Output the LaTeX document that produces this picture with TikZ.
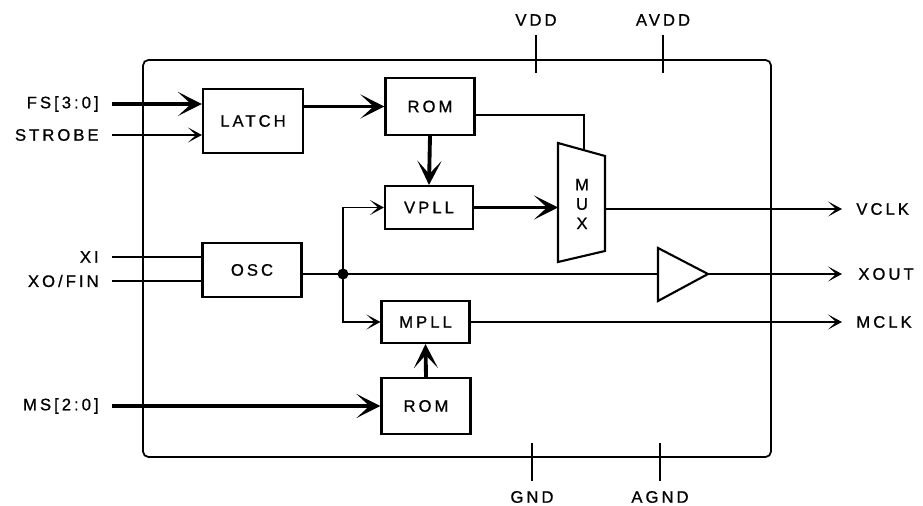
\documentclass[tikz,border=0pt]{standalone}
\usepackage{fontspec}
\setsansfont[LetterSpace=18,FakeBold=0.8]{Liberation Sans}
\usetikzlibrary{arrows.meta}
\usetikzlibrary{calc}

\begin{document}
\begin{tikzpicture}[font=\sffamily\fontsize{9.5}{11}\selectfont,
x=0.02cm, y=-0.02cm,
sig/.style={line width=1.1pt},
bus/.style={line width=2.2pt},
sigarr/.style={sig, -{Stealth[length=2.8mm,width=3mm,inset=1.6mm]}},
busarr/.style={bus, -{Stealth[length=4.8mm,width=4.8mm,inset=2.6mm]}},
lbl/.style={inner sep=0pt}]
\tikzstyle{blk} = [draw, line width=1.2pt, inner sep=0pt, minimum width=1.78cm, minimum height=0.86cm]
\tikzstyle{pin} = [line width=1.2pt]

\useasboundingbox (0,0) rectangle (923,506);

% chip outline
\node[draw, line width=1pt, rounded corners=3pt, minimum width=12.56cm, minimum height=7.94cm](chip) at (457,258.5){};

\node[blk, minimum width=2cm, minimum height=1.28cm](latch) at (253,121){LATCH};
\node[blk, minimum height=1.14cm](romv) at (430,106.5){ROM};
\node[blk, minimum width=1.76cm](vpll) at (429,207.5){VPLL};
\node[blk, minimum width=1.98cm, minimum height=1.08cm](osc) at (252,270){OSC};
\node[blk, minimum width=1.76cm, minimum height=0.84cm](mpll) at (425.5,322){MPLL};
\node[blk, minimum height=1.12cm](romm) at (426,406){ROM};

% mux
\coordinate (mlt) at (558,143);
\coordinate (mrt) at (605,156);
\coordinate (mrb) at (605,251);
\coordinate (mlb) at (558,262);
\draw[line width=1.2pt] (mlt) -- (mrt) -- (mrb) -- (mlb) -- cycle;
\node[lbl, align=center](mux) at (582,204){M\\U\\X};
\coordinate (muxin) at ($(mlt)!0.55!(mrt)$);

% buffer
\coordinate (bt) at (658,248);
\coordinate (bb) at (658,301);
\coordinate (btip) at (708,274);
\draw[line width=1.2pt] (bt) -- (btip) -- (bb) -- cycle;

% pins
\node[lbl, anchor=east](fs) at (99,104){FS[3:0]};
\node[lbl, anchor=east](strobe) at (99,135){STROBE};
\node[lbl, anchor=east](xi) at (99,257){XI};
\node[lbl, anchor=east](xo) at (99,281){XO/FIN};
\node[lbl, anchor=east](ms) at (99,406){MS[2:0]};
\node[lbl, anchor=west](vclk) at (856,209){VCLK};
\node[lbl, anchor=west](xout) at (858,274){XOUT};
\node[lbl, anchor=west](mclk) at (856,322){MCLK};
\node[lbl](vdd) at (536,20){VDD};
\node[lbl](avdd) at (663,20){AVDD};
\node[lbl](gnd) at (532,497){GND};
\node[lbl](agnd) at (660,497){AGND};

\foreach \p in {vdd,avdd}{
	\draw[pin] (\p |- 0,35) -- (\p |- 0,73);
}
\foreach \p in {gnd,agnd}{
	\draw[pin] (\p |- 0,443) -- (\p |- 0,481);
}

% inputs
\draw[busarr] ([xshift=2.6mm]fs.east) -- (fs -| latch.west);
\draw[sigarr] ([xshift=2.6mm]strobe.east) -- (strobe -| latch.west);
\draw[sig] ([xshift=2.6mm]xi.east) -- (xi -| osc.west);
\draw[sig] ([xshift=2.6mm]xo.east) -- (xo -| osc.west);
\draw[busarr] ([xshift=2.6mm]ms.east) -- (romm.west);

% inside
\draw[busarr] (romv.west -| latch.east) -- (romv.west);
\draw[busarr] (romv.south) -- (vpll.north);
\draw[sig] ([yshift=-1.7mm]romv.east) -| (muxin);
\draw[busarr] (vpll.east) -- (vpll.east -| mlt);
\draw[busarr] (romm.north) -- (mpll.south);

\coordinate (jn) at (343,274);
\draw[sig] (osc.east |- jn) -- (jn) -- (bt |- jn);
\fill (jn) circle (1.1mm);
\draw[sigarr] (jn) |- (vpll.west);
\draw[sigarr] (jn) |- (mpll.west);

% outputs
\draw[sigarr] (vclk.west -| mrt) -- ([xshift=-2.8mm]vclk.west);
\draw[sigarr] (btip) -- ([xshift=-3.2mm]xout.west);
\draw[sigarr] (mpll.east) -- ([xshift=-2.8mm]mclk.west);

\end{tikzpicture}
\end{document}
